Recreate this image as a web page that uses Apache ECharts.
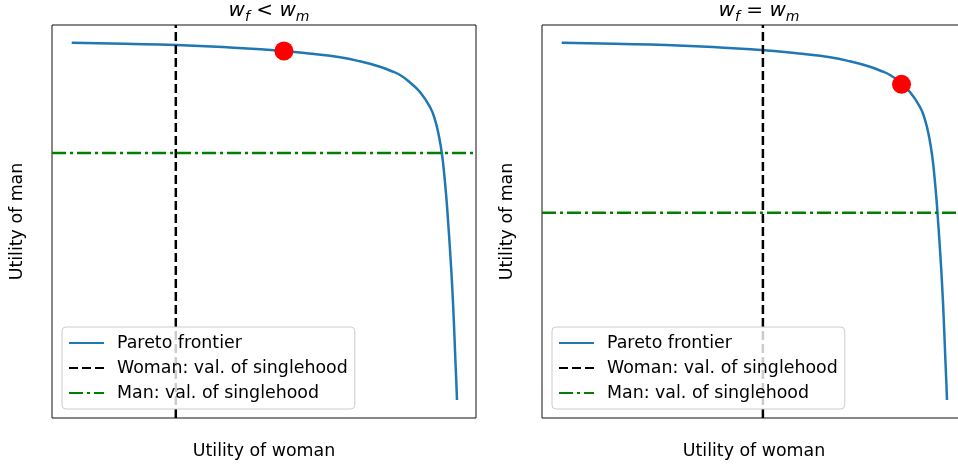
<!DOCTYPE html>
<html>
<head>
<meta charset="utf-8">
<script src="https://cdn.jsdelivr.net/npm/echarts@6/dist/echarts.min.js"></script>
<style>
  html, body { margin: 0; padding: 0; background: #fff; }
  #chart { width: 958px; height: 468px; }
</style>
</head>
<body>
<div id="chart"></div>
<script>
// frontier (0-100 scale on both axes, same curve in both panels)
const frontierX = [4.65, 16.98, 29.25, 41.98, 54.72, 61.32, 67.92, 72.64, 77.36, 79.72, 82.08, 84.43, 86.79, 89.15, 90.30, 91.30, 92.05, 92.60, 93.05, 93.45, 93.92, 94.39, 94.76, 95.07, 95.31, 95.52];
const frontierY = [95.50, 95.22, 94.91, 94.27, 93.38, 92.67, 91.78, 90.76, 89.39, 88.42, 87.28, 85.37, 82.95, 79.13, 76.00, 71.50, 66.50, 61.00, 55.50, 49.50, 41.98, 33.33, 24.94, 16.54, 10.43, 4.58];

// per panel: [left, right]
const panelTitles = ["{w|w}{s|f}{op| < }{w|w}{s|m}", "{w|w}{s|f}{op| = }{w|w}{s|m}"];
const womanSingle = [29.2, 52.1];
const manSingle = [67.4, 52.2];
const bargainX = [54.7, 84.8];
const bargainY = [93.4, 84.9];

const legendNames = ["Pareto frontier", "Woman: val. of singlehood", "Man: val. of singlehood"];

const font = "DejaVu Sans";
const gridLeft = [52, 542];
const gridW = 424, gridTop = 25, gridH = 393;

const chart = echarts.init(document.getElementById("chart"));

const frontier = frontierX.map((x, i) => [x, frontierY[i]]);

const grids = [], xAxes = [], yAxes = [], series = [], titles = [], legends = [];

gridLeft.forEach((left, p) => {
    grids.push({
        left, top: gridTop, width: gridW, height: gridH,
        outerBoundsMode: "none", containLabel: false,
        show: true, borderColor: "#111", borderWidth: 1, backgroundColor: "#fff",
    });
    xAxes.push({
        gridIndex: p, type: "value", min: 0, max: 100,
        name: "Utility of woman", nameLocation: "middle", nameGap: 25,
        nameTextStyle: { fontFamily: font, fontSize: 17.4, color: "#000" },
        axisLine: { show: false }, axisTick: { show: false },
        axisLabel: { show: false }, splitLine: { show: false },
    });
    yAxes.push({
        gridIndex: p, type: "value", min: 0, max: 100,
        name: "Utility of man", nameLocation: "middle", nameGap: 26,
        nameTextStyle: { fontFamily: font, fontSize: 17.4, color: "#000" },
        axisLine: { show: false }, axisTick: { show: false },
        axisLabel: { show: false }, splitLine: { show: false },
    });
    series.push(
        {
            name: legendNames[0], type: "line", xAxisIndex: p, yAxisIndex: p,
            data: frontier, symbol: "none", smooth: 0.5, z: 2,
            lineStyle: { color: "#1f77b4", width: 2.5 },
            itemStyle: { color: "#1f77b4" },
        },
        {
            name: legendNames[1], type: "line", xAxisIndex: p, yAxisIndex: p,
            data: [[womanSingle[p], 0], [womanSingle[p], 100]], symbol: "none", z: 3,
            lineStyle: { color: "#000", width: 2.5, type: [9, 4] },
            itemStyle: { color: "#000" },
        },
        {
            name: legendNames[2], type: "line", xAxisIndex: p, yAxisIndex: p,
            data: [[0, manSingle[p]], [100, manSingle[p]]], symbol: "none", z: 3,
            lineStyle: { color: "#008000", width: 2.5, type: [14, 4, 3, 4] },
            itemStyle: { color: "#008000" },
        },
        {
            name: "bargain", type: "scatter", xAxisIndex: p, yAxisIndex: p,
            data: [[bargainX[p], bargainY[p]]], symbolSize: 19, z: 5,
            itemStyle: { color: "#ff0000", opacity: 1 },
        }
    );
    titles.push({
        text: panelTitles[p],
        left: left + gridW / 2, textAlign: "center", top: -7,
        textStyle: {
            fontWeight: "normal",
            rich: {
                w: { fontFamily: font, fontStyle: "italic", fontWeight: "normal", fontSize: 20, color: "#000" },
                s: { fontFamily: font, fontStyle: "italic", fontWeight: "normal", fontSize: 14, color: "#000", verticalAlign: "bottom", padding: [12, 0, 0, 0] },
                op: { fontFamily: font, fontWeight: "normal", fontSize: 20, color: "#000" },
            },
        },
    });
    legends.push({
        data: legendNames, orient: "vertical",
        left: left + 10, top: 327,
        padding: [7, 7, 7, 6], itemGap: 7, itemWidth: 35, itemHeight: 12,
        borderColor: "#ccc", borderWidth: 1, borderRadius: 4,
        backgroundColor: "rgba(255,255,255,0.8)",
        itemStyle: { opacity: 0 },
        textStyle: { fontFamily: font, fontSize: 17.4, color: "#000", lineHeight: 18, padding: [0, 0, 0, 8] },
        selectedMode: false,
    });
});

chart.setOption({
    animation: false,
    title: titles,
    legend: legends,
    grid: grids,
    xAxis: xAxes,
    yAxis: yAxes,
    series,
});
</script>
</body>
</html>
